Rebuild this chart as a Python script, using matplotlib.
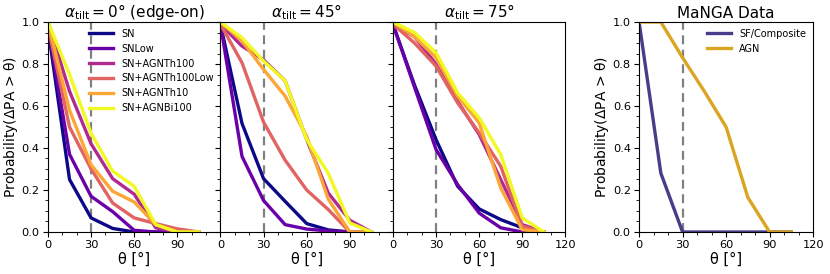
import matplotlib.pyplot as plt
from matplotlib.ticker import MultipleLocator

theta = [0, 15, 30, 45, 60, 75, 90, 105]
sim_labels = ["SN", "SNLow", "SN+AGNTh100", "SN+AGNTh100Low", "SN+AGNTh10", "SN+AGNBi100"]
tilt_titles = [r"$\alpha_{\rm tilt} = 0°$ (edge-on)", r"$\alpha_{\rm tilt} = 45°$", r"$\alpha_{\rm tilt} = 75°$"]

# one list per simulation, for each tilt angle
tilt0 = [
    [0.97, 0.25, 0.067, 0.017, 0.0, 0.0, 0.0, 0.0],
    [0.98, 0.37, 0.17, 0.097, 0.008, 0.0, 0.0, 0.0],
    [1.0, 0.67, 0.42, 0.254, 0.18, 0.02, 0.0, 0.0],
    [0.98, 0.50, 0.30, 0.138, 0.067, 0.04, 0.015, 0.0],
    [1.0, 0.58, 0.32, 0.194, 0.143, 0.035, 0.0, 0.0],
    [1.0, 0.75, 0.47, 0.29, 0.218, 0.035, 0.0, 0.0],
]
tilt45 = [
    [0.99, 0.517, 0.254, 0.146, 0.04, 0.01, 0.0, 0.0],
    [0.99, 0.36, 0.15, 0.035, 0.014, 0.005, 0.0, 0.0],
    [0.99, 0.885, 0.82, 0.72, 0.44, 0.186, 0.056, 0.0],
    [0.99, 0.806, 0.523, 0.342, 0.2, 0.107, 0.0, 0.0],
    [1.0, 0.91, 0.774, 0.647, 0.456, 0.157, 0.0, 0.0],
    [1.0, 0.925, 0.814, 0.72, 0.44, 0.28, 0.043, 0.0],
]
tilt75 = [
    [0.99, 0.70, 0.44, 0.218, 0.11, 0.059, 0.02, 0.0],
    [0.99, 0.69, 0.393, 0.226, 0.09, 0.02, 0.0, 0.0],
    [0.99, 0.93, 0.80, 0.623, 0.464, 0.25, 0.035, 0.0],
    [0.99, 0.90, 0.79, 0.615, 0.472, 0.313, 0.027, 0.0],
    [1.0, 0.93, 0.83, 0.647, 0.52, 0.21, 0.011, 0.0],
    [1.0, 0.95, 0.854, 0.663, 0.544, 0.369, 0.067, 0.0],
]

manga_labels = ["SF/Composite", "AGN"]
manga_sf = [1.0, 0.28, 0.0, 0.0, 0.0, 0.0, 0.0, 0.0]
manga_agn = [1.0, 1.0, 0.83, 0.67, 0.5, 0.165, 0.0, 0.0]

cmap = plt.get_cmap("plasma")
colors = [cmap(i / 5) for i in range(6)]

fig = plt.figure(figsize=(8.3, 2.74), dpi=100)
bottom, height = 0.1533, 0.7664
w = 0.2078
lefts = [0.0578, 0.2656, 0.4734]
axes = [fig.add_axes([l, bottom, w, height]) for l in lefts]
ax4 = fig.add_axes([0.770, bottom, 0.2096, height])


def style(ax, show_y=True, last_tick=False):
    ax.set_xlim(0, 120)
    ax.set_ylim(0, 1)
    ax.axvline(30, color="gray", ls=(0, (4, 2.5)), lw=1.6, zorder=0.5)
    if last_tick:
        ax.set_xticks([0, 30, 60, 90, 120])
    else:
        ax.set_xticks([0, 30, 60, 90])
    ax.xaxis.set_minor_locator(MultipleLocator(10))
    ax.set_yticks([0, 0.2, 0.4, 0.6, 0.8, 1.0])
    ax.yaxis.set_minor_locator(MultipleLocator(0.05))
    ax.tick_params(labelsize=8.2, pad=2.5)
    ax.set_xlabel(r"θ [°]", fontsize=10.5, labelpad=1)
    if show_y:
        ax.set_ylabel(r"Probability($\Delta$PA > θ)", fontsize=10, labelpad=1)
    else:
        ax.tick_params(labelleft=False)


for k, (ax, data) in enumerate(zip(axes, [tilt0, tilt45, tilt75])):
    for vals, lab, c in zip(data, sim_labels, colors):
        ax.plot(theta, vals, color=c, lw=2.4, label=lab)
    ax.set_title(tilt_titles[k], fontsize=11, pad=3)
    style(ax, show_y=(k == 0), last_tick=(k == 2))

axes[0].legend(loc="upper right", fontsize=7, frameon=False,
               handlelength=2.5, labelspacing=0.5, borderaxespad=0.3)

ax4.plot(theta, manga_sf, color="#483d8b", lw=2.4, label=manga_labels[0])
ax4.plot(theta, manga_agn, color="#daa520", lw=2.4, label=manga_labels[1])
ax4.set_title("MaNGA Data", fontsize=11, pad=3)
style(ax4, show_y=True, last_tick=True)
ax4.legend(loc="upper right", fontsize=7, frameon=False,
           handlelength=2.5, labelspacing=0.5, borderaxespad=0.3)

fig.savefig("out.png", dpi=100)
